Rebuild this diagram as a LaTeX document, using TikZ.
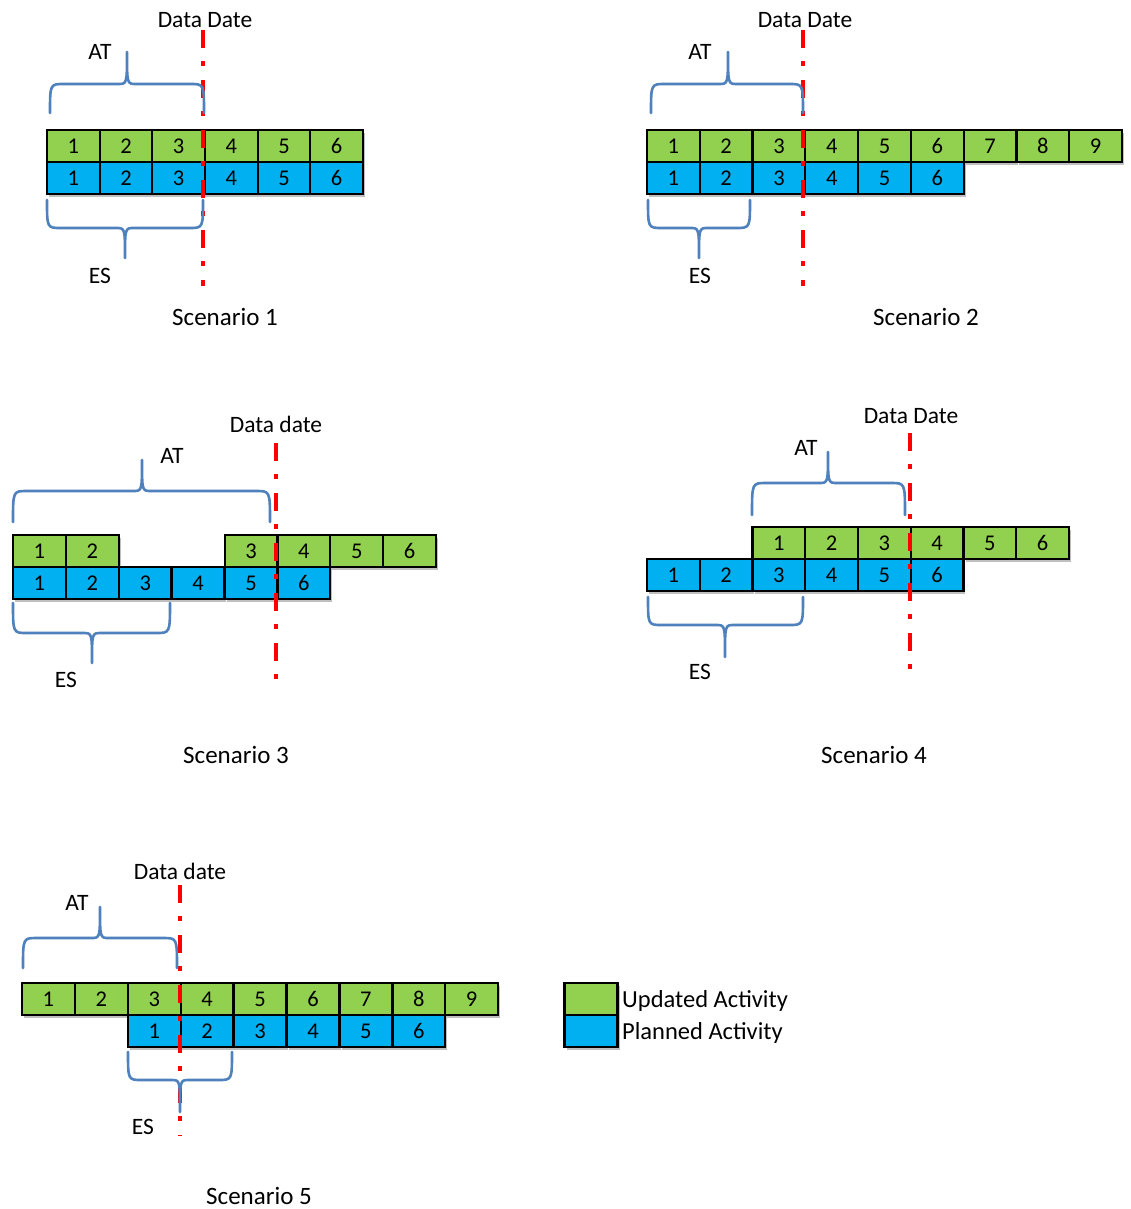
\documentclass[tikz,border=0pt]{standalone}
\usepackage{fontspec}
\setmainfont{Carlito}
\usetikzlibrary{shadows}
\definecolor{ugreen}{RGB}{146,208,80}
\definecolor{pblue}{RGB}{0,176,240}
\definecolor{bracec}{RGB}{79,129,189}
\tikzset{
  cellbox/.style={draw=black, line width=2.2pt, minimum width=52.7pt, minimum height=32pt, inner sep=0pt,
    font=\fontsize{22.5}{25}\selectfont,
    drop shadow={shadow xshift=2pt, shadow yshift=-3pt, opacity=0.25, fill=black}},
  gcell/.style={cellbox, fill=ugreen},
  bcell/.style={cellbox, fill=pblue},
  lbl/.style={font=\fontsize{23.5}{27}\selectfont, inner sep=0pt},
  ttl/.style={font=\fontsize{25}{29}\selectfont, inner sep=0pt},
  lgd/.style={font=\fontsize{24.5}{28}\selectfont, inner sep=0pt},
  ddline/.style={draw=red, line width=4.5pt, dash pattern=on 18pt off 13pt on 5pt off 14pt},
  bracepath/.style={draw=bracec, line width=2.6pt, line join=round, line cap=round},
}
% x1, x2, xt, yend, yh, ytip
\newcommand\mybrace[6]{%
  \draw[bracepath] (#1,#4) .. controls (#1,#5) .. ({#1+14},#5) -- ({#3-9},#5)
    .. controls (#3,#5) .. (#3,#6) .. controls (#3,#5) .. ({#3+9},#5)
    -- ({#2-14},#5) .. controls (#2,#5) .. (#2,#4);}
\begin{document}
\begin{tikzpicture}[x=1pt,y=-1pt]
\useasboundingbox[fill=white] (0,0) rectangle (1130,1209);

% ---------------- Scenario 1
\foreach \i in {1,...,6} \node[gcell] (a-g\i) at ({47+(\i-0.5)*52.67},146) {\i};
\foreach \i in {1,...,6} \node[bcell] (a-b\i) at ({47+(\i-0.5)*52.67},178) {\i};
\coordinate (a-dt) at (203,30); \coordinate (a-db) at (203,286);
\draw[ddline] (a-dt) -- (a-db);
\mybrace{50}{204}{127}{113}{84}{52}
\mybrace{47}{203}{125}{200}{228}{258}
\node[lbl] (a-dd) at (205,20) {Data Date};
\node[lbl] (a-at) at (100,52) {AT};
\node[lbl] (a-es) at (100,276) {ES};
\node[ttl] (a-t) at (225,317) {Scenario 1};

% ---------------- Scenario 2
\foreach \i in {1,...,9} \node[gcell] (b-g\i) at ({647+(\i-0.5)*52.78},146) {\i};
\foreach \i in {1,...,6} \node[bcell] (b-b\i) at ({647+(\i-0.5)*52.78},178) {\i};
\coordinate (b-dt) at (803,30); \coordinate (b-db) at (803,286);
\draw[ddline] (b-dt) -- (b-db);
\mybrace{651}{803}{728}{113}{84}{52}
\mybrace{648}{750}{699}{200}{228}{258}
\node[lbl] (b-dd) at (805,20) {Data Date};
\node[lbl] (b-at) at (700,52) {AT};
\node[lbl] (b-es) at (700,276) {ES};
\node[ttl] (b-t) at (926,317) {Scenario 2};

% ---------------- Scenario 3
\foreach \p/\l in {1/1,2/2,5/3,6/4,7/5,8/6} \node[gcell] (c-g\l) at ({13+(\p-0.5)*52.88},551) {\l};
\foreach \i in {1,...,6} \node[bcell] (c-b\i) at ({13+(\i-0.5)*52.88},583) {\i};
\coordinate (c-dt) at (276,443); \coordinate (c-db) at (276,692);
\draw[ddline] (c-dt) -- (c-db);
\mybrace{13}{270}{142}{522}{491}{460}
\mybrace{13}{170}{92}{603}{633}{663}
\node[lbl] (c-dd) at (276,424) {Data date};
\node[lbl] (c-at) at (172,456) {AT};
\node[lbl] (c-es) at (66,680) {ES};
\node[ttl] (c-t) at (236,755) {Scenario 3};

% ---------------- Scenario 4
\foreach \p/\l in {3/1,4/2,5/3,6/4,7/5,8/6} \node[gcell] (d-g\l) at ({647+(\p-0.5)*52.75},543) {\l};
\foreach \i in {1,...,6} \node[bcell] (d-b\i) at ({647+(\i-0.5)*52.75},575) {\i};
\coordinate (d-dt) at (910,433); \coordinate (d-db) at (910,681);
\draw[ddline] (d-dt) -- (d-db);
\mybrace{752}{905}{828}{515}{483}{452}
\mybrace{648}{803}{725}{597}{625}{657}
\node[lbl] (d-dd) at (911,416) {Data Date};
\node[lbl] (d-at) at (806,448) {AT};
\node[lbl] (d-es) at (700,672) {ES};
\node[ttl] (d-t) at (874,755) {Scenario 4};

% ---------------- Scenario 5
\foreach \i in {1,...,9} \node[gcell] (e-g\i) at ({22+(\i-0.5)*52.9},999) {\i};
\foreach \p/\l in {3/1,4/2,5/3,6/4,7/5,8/6} \node[bcell] (e-b\l) at ({22+(\p-0.5)*52.9},1031) {\l};
\coordinate (e-dt) at (180,885); \coordinate (e-db) at (180,1136);
\draw[ddline] (e-dt) -- (e-db);
\mybrace{23}{177}{100}{968}{938}{907}
\mybrace{128}{232}{180}{1052}{1080}{1112}
\node[lbl] (e-dd) at (180,871) {Data date};
\node[lbl] (e-at) at (77,903) {AT};
\node[lbl] (e-es) at (143,1127) {ES};
\node[ttl] (e-t) at (259,1196) {Scenario 5};

% ---------------- Legend
\node[gcell, minimum width=53pt] (lg) at (591,999) {};
\node[bcell, minimum width=53pt] (lb) at (591,1031) {};
\node[lgd, anchor=west] (lgt) at (622,1001) {Updated Activity};
\node[lgd, anchor=west] (lbt) at (622,1033) {Planned Activity};
\end{tikzpicture}
\end{document}
